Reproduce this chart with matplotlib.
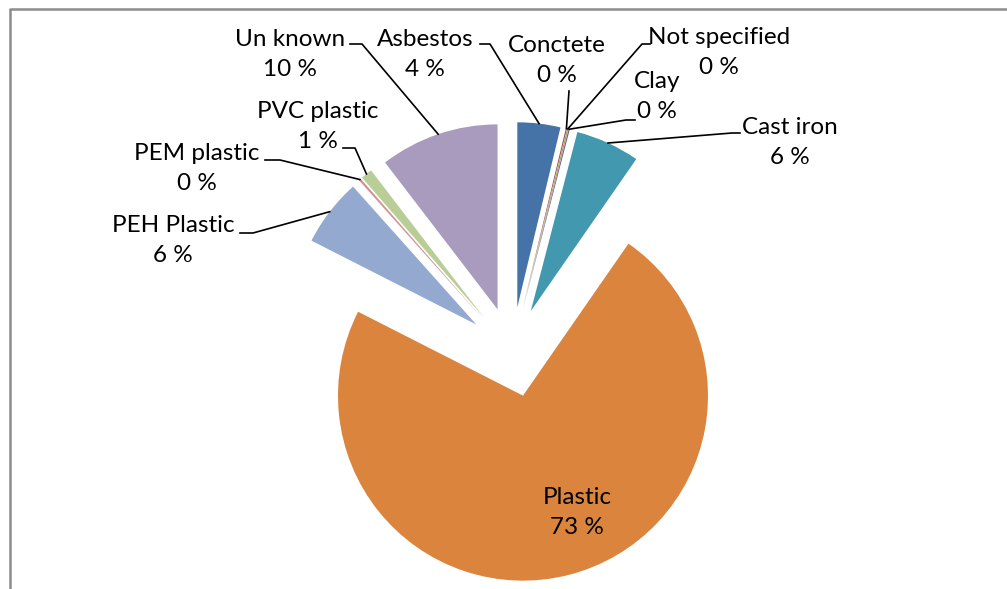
import numpy as np
import matplotlib.pyplot as plt

# pipe material shares (clockwise from 12 o'clock)
materials = ["Asbestos", "Conctete", "Not specified", "Clay", "Cast iron",
             "Plastic", "PEH Plastic", "PEM plastic", "PVC plastic", "Un known"]
shares = [3.75, 0.1, 0.1, 0.1, 5.6, 72.8, 5.9, 0.2, 1.0, 10.4]
pct_labels = ["4 %", "0 %", "0 %", "0 %", "6 %", "73 %", "6 %", "0 %", "1 %", "10 %"]
colors = ["#4572A7", "#AA4643", "#89A54E", "#71588F", "#4198AF",
          "#DB843D", "#93A9CF", "#D19392", "#B9CD96", "#A99BBD"]

W, H = 1007, 589

# label layout in image pixels (y down): text centre, leader start, leader elbow
label_pos = [(425, 54), (557, 60), (719, 53), (657, 96), (790, 142),
             (577, 512), (173, 240), (197, 168), (318, 126), (290, 54)]
leader_pts = [[(480, 44), (490, 44)], [(569, 91), (569, 91)], [(650, 44), (642, 44)],
              [(635, 120), (626, 120)], [(740, 133), (732, 133)], None,
              [(240, 233), (253, 233)], [(265, 160), (280, 160)],
              [(343, 148), (355, 148)], [(350, 44), (362, 44)]]
line_gap = 30

plt.rcParams['font.family'] = ['Lato', 'DejaVu Sans']

fig = plt.figure(figsize=(W / 100, H / 100), dpi=100)
ax = fig.add_axes([0, 0, 1, 1])

wedges, _ = ax.pie(shares, colors=colors, startangle=90, counterclock=False,
                   radius=185, center=(512, H - 352), explode=[45] * len(shares),
                   wedgeprops=dict(linewidth=0))
ax.set_xlim(0, W)
ax.set_ylim(0, H)
ax.set_aspect('equal')
ax.axis('off')

for w, name, pct, (tx, ty), lead in zip(wedges, materials, pct_labels, label_pos, leader_pts):
    ax.text(tx, H - ty + line_gap / 2, name, ha='center', va='center',
            fontsize=17.5, color='black')
    ax.text(tx, H - ty - line_gap / 2, pct, ha='center', va='center',
            fontsize=17.5, color='black')
    if lead is None:
        continue
    cx, cy = w.center
    th = np.deg2rad((w.theta1 + w.theta2) / 2)
    ax_, ay_ = cx + w.r * np.cos(th), cy + w.r * np.sin(th)
    xs = [lead[0][0], lead[1][0], ax_]
    ys = [H - lead[0][1], H - lead[1][1], ay_]
    ax.plot(xs, ys, color='black', lw=1.2)

# chart area border (left and top visible)
ax.plot([10, 10, W + 5], [-5, H - 9, H - 9], color='#8c8c8c', lw=1.8, clip_on=False)

fig.savefig("out.png", dpi=100)
